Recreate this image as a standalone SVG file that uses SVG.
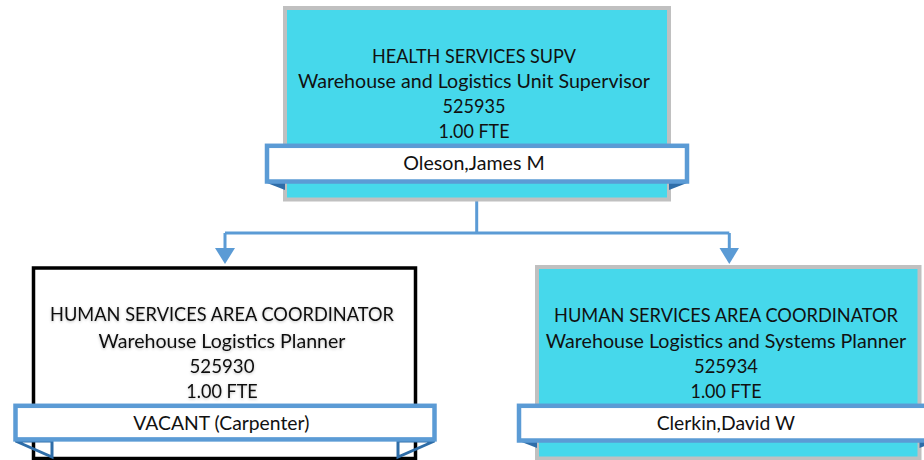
<svg xmlns="http://www.w3.org/2000/svg" width="924" height="460" viewBox="0 0 924 460">
<defs>
<style>
.t{font-family:Lato,"Open Sans","Liberation Sans",sans-serif;font-size:19px;fill:#111;text-anchor:middle}
.pos{fill:#46D8EB;stroke:#C0C0C0;stroke-width:4}
.vac{fill:#fff;stroke:#000;stroke-width:3.5}
.ban{fill:#fff;stroke:#5B9BD5;stroke-width:4.5}
.fold{fill:#2E6DA8}
.foldo{fill:none;stroke:#2E6DA8;stroke-width:3}
.con{fill:none;stroke:#5B9BD5;stroke-width:3}
.arr{fill:#5B9BD5}
</style>
<filter id="glow" x="-10%" y="-30%" width="120%" height="160%">
<feGaussianBlur in="SourceAlpha" stdDeviation="1.5"/>
<feOffset dx="0" dy="1" result="b"/>
<feFlood flood-color="#000" flood-opacity="0.25"/>
<feComposite in2="b" operator="in"/>
<feMerge><feMergeNode/><feMergeNode in="SourceGraphic"/></feMerge>
</filter>
</defs>
<g id="connectors">
<path class="con" d="M476.7 201 V233 M225 233 H729.3 M225 233 V250 M729.3 233 V250"/>
<polygon class="arr" points="215,248 235,248 225,264"/>
<polygon class="arr" points="719.5,248 739,248 729.3,264"/>
</g>
<g id="node-top">
<rect class="pos" x="285" y="8" width="384" height="191.5"/>
<polygon class="fold" points="267,183 285,183 285,190"/>
<polygon class="fold" points="687,183 669,183 669,190"/>
<rect class="ban" x="267" y="145.8" width="420" height="35.7"/>
<text class="t" x="474" y="62.7" textLength="204" lengthAdjust="spacingAndGlyphs">HEALTH SERVICES SUPV</text>
<text class="t" x="474" y="87.5" textLength="352" lengthAdjust="spacingAndGlyphs">Warehouse and Logistics Unit Supervisor</text>
<text class="t" x="474" y="113.3" textLength="63" lengthAdjust="spacingAndGlyphs">525935</text>
<text class="t" x="474" y="138.3" textLength="71" lengthAdjust="spacingAndGlyphs">1.00 FTE</text>
<text class="t" x="474" y="170" textLength="141.5" lengthAdjust="spacingAndGlyphs">Oleson,James M</text>
</g>
<g id="node-left">
<rect class="vac" x="33.5" y="268" width="382" height="190.5"/>
<polygon class="foldo" points="15.5,441 52,441 52,457"/>
<polygon class="foldo" points="434.5,441 398,441 398,457"/>
<rect class="ban" x="15.5" y="405.8" width="419" height="33.6"/>
<g filter="url(#glow)">
<text class="t" x="222" y="321" textLength="344" lengthAdjust="spacingAndGlyphs">HUMAN SERVICES AREA COORDINATOR</text>
<text class="t" x="222" y="348.3" textLength="247" lengthAdjust="spacingAndGlyphs">Warehouse Logistics Planner</text>
<text class="t" x="222" y="373.3" textLength="65" lengthAdjust="spacingAndGlyphs">525930</text>
<text class="t" x="222" y="398.3" textLength="71.5" lengthAdjust="spacingAndGlyphs">1.00 FTE</text>
</g>
<text class="t" x="221.3" y="430" textLength="176" lengthAdjust="spacingAndGlyphs">VACANT (Carpenter)</text>
</g>
<g id="node-right">
<rect class="pos" x="537" y="267" width="382.5" height="191.5"/>
<polygon class="fold" points="519,441 537,441 537,448"/>
<polygon class="fold" points="937.5,441 919.5,441 919.5,448"/>
<rect class="ban" x="519" y="405.8" width="418.5" height="34.7"/>
<text class="t" x="726" y="321.7" textLength="344" lengthAdjust="spacingAndGlyphs">HUMAN SERVICES AREA COORDINATOR</text>
<text class="t" x="726" y="348.3" textLength="360.5" lengthAdjust="spacingAndGlyphs">Warehouse Logistics and Systems Planner</text>
<text class="t" x="726" y="373.3" textLength="64" lengthAdjust="spacingAndGlyphs">525934</text>
<text class="t" x="726" y="398.3" textLength="71" lengthAdjust="spacingAndGlyphs">1.00 FTE</text>
<text class="t" x="725.8" y="430" textLength="138.3" lengthAdjust="spacingAndGlyphs">Clerkin,David W</text>
</g>
</svg>
